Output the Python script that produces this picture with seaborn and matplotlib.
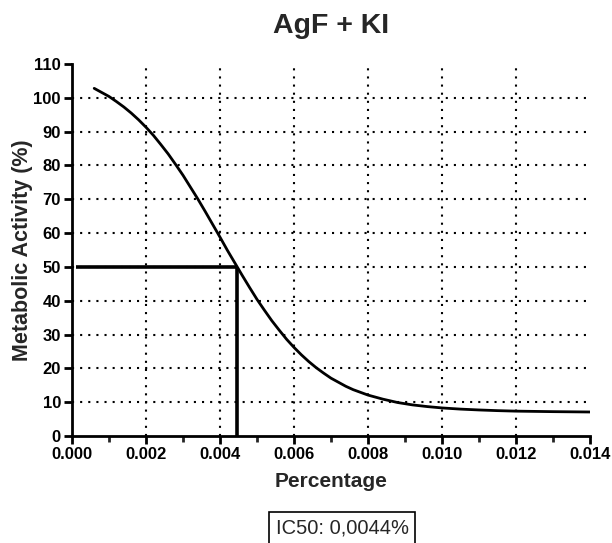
import matplotlib
matplotlib.use("Agg")
import matplotlib.pyplot as plt
import seaborn as sns
import pandas as pd
from matplotlib.ticker import MultipleLocator

# Values (smoothed readings)
conc = [0.0006, 0.0008, 0.0010, 0.0012, 0.0014, 0.0016, 0.0018, 0.0020,
        0.0022, 0.0024, 0.0026, 0.0028, 0.0030, 0.0032, 0.0034, 0.0036,
        0.0038, 0.0040, 0.0042, 0.0044, 0.0046, 0.0048, 0.0050, 0.0052,
        0.0054, 0.0056, 0.0058, 0.0060, 0.0062, 0.0064, 0.0066, 0.0068,
        0.0070, 0.0072, 0.0074, 0.0076, 0.0078, 0.0080, 0.0084, 0.0088,
        0.0092, 0.0096, 0.0100, 0.0105, 0.0110, 0.0115, 0.0120, 0.0130,
        0.0140]
activity = [102.8, 101.6, 100.4, 98.9, 97.3, 95.5, 93.5, 91.3,
            88.9, 86.2, 83.4, 80.3, 77.1, 73.6, 70.1, 66.4,
            62.6, 58.8, 54.9, 51.2, 47.5, 43.9, 40.4, 37.2,
            34.1, 31.3, 28.6, 26.2, 24.0, 22.0, 20.2, 18.6,
            17.1, 15.9, 14.7, 13.7, 12.9, 12.1, 10.9, 9.9,
            9.2, 8.7, 8.3, 7.95, 7.7, 7.5, 7.35, 7.2,
            7.1]
ic50_x = 0.00445
ic50_y = 50
x_ticks = [0.000, 0.002, 0.004, 0.006, 0.008, 0.010, 0.012, 0.014]
y_ticks = list(range(0, 111, 10))
title = "AgF + KI"
ic50_label = "IC50: 0,0044%"

sns.set_style("white")
plt.rcParams['font.family'] = ['Liberation Sans', 'DejaVu Sans']

fig = plt.figure(figsize=(6.12, 5.43), dpi=100)
ax = fig.add_axes([72/612, 1-436/543, (590-72)/612, (436-64)/543])

df = pd.DataFrame({"Percentage": conc, "Activity": activity})

# dotted grid
dots = (0, (1, 2.9))
for yv in y_ticks[1:-1]:
    ax.axhline(yv, color="black", ls=dots, lw=1.5, zorder=1)
for xv in x_ticks[1:-1]:
    ax.axvline(xv, color="black", ls=dots, lw=1.5, zorder=1)

sns.lineplot(data=df, x="Percentage", y="Activity", ax=ax, color="black",
             lw=2, zorder=3)
ax.lines[-1].set_solid_joinstyle("round")

ax.plot([0.0001, ic50_x], [ic50_y, ic50_y], color="black", lw=2.6, zorder=4,
        solid_capstyle="butt")
ax.plot([ic50_x, ic50_x], [0, ic50_y], color="black", lw=2.6, zorder=4,
        solid_capstyle="butt")

ax.set_xlim(0, 0.014)
ax.set_ylim(0, 110)
ax.set_xticks(x_ticks)
ax.set_xticklabels([f"{v:.3f}" for v in x_ticks])
ax.xaxis.set_minor_locator(MultipleLocator(0.001))
ax.set_yticks(y_ticks)
ax.set_yticklabels([str(v) for v in y_ticks])

for s in ["top", "right"]:
    ax.spines[s].set_visible(False)
for s in ["left", "bottom"]:
    ax.spines[s].set_linewidth(2)
    ax.spines[s].set_color("black")

ax.tick_params(axis="both", which="major", direction="out", length=6, width=2,
               labelsize=12, colors="black", pad=2, bottom=True, left=True)
ax.tick_params(axis="x", which="minor", direction="out", length=4, width=2,
               bottom=True)
for lab in ax.get_xticklabels() + ax.get_yticklabels():
    lab.set_fontweight("bold")

ax.set_xlabel("Percentage", fontsize=15, fontweight="bold", labelpad=7)
ax.set_ylabel("Metabolic Activity (%)", fontsize=15.5, fontweight="bold", labelpad=0)
ax.set_title(title, fontsize=20.5, fontweight="bold", pad=22)
ax.set_facecolor("white")

fig.text(342/612, 1-528/543, ic50_label, fontsize=14.5, ha="center", va="center",
         bbox=dict(boxstyle="square,pad=0.3", fc="white", ec="black", lw=1.2))

fig.savefig("out.png", dpi=100)
